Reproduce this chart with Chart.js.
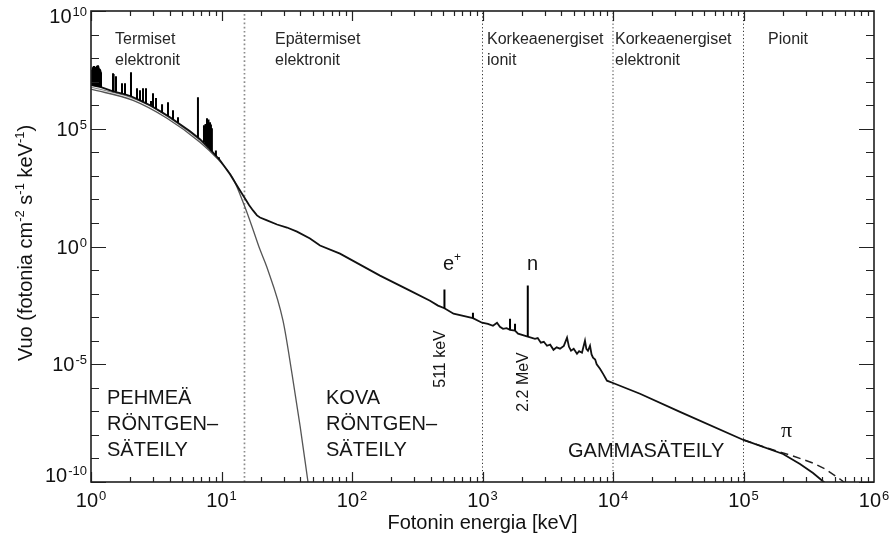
<!DOCTYPE html>
<html lang="fi">
<head>
<meta charset="utf-8">
<title>Auringon röntgen- ja gammaspektri</title>
<script src="https://cdn.jsdelivr.net/npm/chart.js@4.4.1/dist/chart.umd.min.js"></script>
<style>
  html, body { margin: 0; padding: 0; background: #fff; }
  canvas { display: block; }
</style>
</head>
<body>
<canvas id="spektriChart" width="893" height="538"></canvas>
<script>
// Fotonin energia [keV] ja vuo (fotonia cm-2 s-1 keV-1), luettu kuvasta

// kokonaisspektrin jatkumo
var jatkumoE = [1.0, 1.193, 1.475, 1.822, 2.025, 2.374, 2.832, 3.379, 4.031, 4.808, 5.736, 6.843, 8.166, 9.74,
  11.62, 13.86, 15.14, 16.3, 17.43, 18.7, 19.72, 22.32, 26.63, 31.77, 37.89, 47.66, 56.86, 80.9, 163.9, 278, 396, 456, 511,
  600, 845, 991, 1100, 1203, 1292, 1360, 1436, 1530, 1625, 1775, 1872, 2223, 2525, 2650, 2800, 2950, 3120, 3300, 3500, 3700,
  3925, 4200, 4444, 4600, 4769, 5000, 5296, 5500, 5785, 6100, 6250, 6430, 6665, 6850, 7030, 7300, 7500, 7950, 8400, 8990,
  10000, 16100, 32600, 1e5, 2.01e5, 2.71e5, 3.41e5, 4.21e5];
var jatkumoF = [7.1e6, 5.8e6, 3.9e6, 2.9e6, 2.4e6, 1.6e6, 1.0e6, 5.6e5, 3.1e5, 1.55e5, 7.8e4, 3.6e4, 1.35e4, 4.6e3,
  1.16e3, 240, 110, 56, 34, 21, 17, 12.8, 8.6, 6.4, 4.3, 2.2, 1.1, 0.50, 0.058, 0.0134, 5.0e-3, 3.1e-3, 2.4e-3,
  1.4e-3, 9.0e-4, 5.8e-4, 5.2e-4, 4.3e-4, 5.8e-4, 3.9e-4, 3.2e-4, 3.4e-4, 2.9e-4, 2.7e-4, 2.0e-4, 1.5e-4, 1.2e-4, 1.3e-4, 8.2e-5, 9.0e-5, 6.1e-5, 6.8e-5, 4.1e-5, 5.2e-5,
  4.6e-5, 6.0e-5, 1.34e-4, 5.5e-5, 3.75e-5, 4.5e-5, 2.8e-5, 3.6e-5, 3.1e-5, 1.0e-4, 4.5e-5, 3.75e-5, 6.1e-5, 2.6e-5, 1.9e-5, 1.6e-5, 1.0e-5, 6.4e-6, 3.9e-6, 2.0e-6,
  1.6e-6, 5.6e-7, 9.5e-8, 6.1e-9, 1.55e-9, 5.8e-10, 2.4e-10, 9.1e-11];

// spektriviivat: energia, pohja ja huippu
var viivaE = [1.018, 1.027, 1.036, 1.045, 1.054, 1.063, 1.073, 1.082, 1.092, 1.101, 1.111, 1.121, 1.131, 1.141, 1.151,
  1.161, 1.172, 1.182, 1.193, 1.475, 1.49, 1.554, 1.728, 1.822, 2.025, 2.251, 2.374, 2.503, 2.639, 2.884, 2.986, 3.148,
  3.503, 3.891, 4.25, 4.642, 6.6, 7.34, 7.54, 7.74, 7.95, 8.17, 8.3, 8.44, 9.06, 9.55, 511, 845, 1625, 1775, 2223];
var viivaPohja = [7.0e6, 6.9e6, 6.8e6, 6.75e6, 6.7e6, 6.6e6, 6.5e6, 6.45e6, 6.4e6, 6.35e6, 6.3e6, 6.25e6, 6.2e6, 6.1e6, 6.0e6,
  5.95e6, 5.9e6, 5.85e6, 5.8e6, 3.9e6, 3.85e6, 3.7e6, 3.2e6, 2.9e6,
  2.4e6, 1.85e6, 1.6e6, 1.4e6, 1.2e6, 9.4e5, 8.4e5, 7.0e5, 4.9e5, 3.5e5, 2.5e5, 1.8e5, 4.2e4, 2.6e4, 2.2e4, 1.85e4, 1.6e4, 1.35e4,
  1.2e4, 1.1e4, 7.0e3, 5.1e3, 2.4e-3, 9.0e-4, 2.9e-4, 2.7e-4, 1.5e-4];
var viivaHuippu = [3.1e7, 3.6e7, 4.1e7, 4.4e7, 4.6e7, 4.2e7, 3.75e7, 3.9e7, 4.1e7, 4.4e7, 4.6e7, 4.8e7, 5.0e7, 4.4e7, 3.75e7,
  3.5e7, 3.4e7, 3.0e7, 2.5e7, 2.3e7, 2.1e7, 1.7e7, 8.6e6, 8.6e6,
  2.5e7, 5.3e6, 4.3e6, 5.3e6, 5.3e6, 1.5e6, 3.2e6, 2.0e6, 1.1e6, 1.35e6, 6.1e5, 3.1e5, 2.2e6, 1.4e5, 1.6e5, 2.8e5, 2.5e5, 1.9e5,
  1.5e5, 1.05e5, 1.2e4, 6.1e3, 1.5e-2, 1.55e-3, 8.6e-4, 5.3e-4, 2.2e-2];

// terminen malli (jyrkkä) ja toinen terminen komponentti
var termiE = [1.0, 2.1, 3.82, 6.84, 9.24, 12.25, 15.14, 17.43, 19.72, 22.32, 29.6, 34.7, 40.0, 46.0];
var termiF = [4.8e6, 1.6e6, 2.8e5, 2.7e4, 5.5e3, 780, 46, 5.3, 0.74, 0.128, 7.1e-4, 3.9e-6, 2.4e-8, 1e-10];
var termi2E = [1.0, 1.99, 2.98, 4.81, 6.84, 8.9];
var termi2F = [5.8e6, 2.2e6, 8.2e5, 1.4e5, 3.2e4, 7.4e3];

// pionien hajoaminen (katkoviiva)
var pioniE = [1e5, 1.51e5, 2.39e5, 3.41e5, 4.21e5, 5.48e5, 6.0e5];
var pioniF = [6.1e-9, 2.8e-9, 1.28e-9, 6.4e-10, 3.6e-10, 1.34e-10, 9.1e-11];

// alueiden rajat
var rajaE = [15, 1000, 10000, 100000];

// akselit
var xMin = 1, xMax = 1e6, yMin = 1e-10, yMax = 1e10;
var xTikit = [1, 10, 100, 1e3, 1e4, 1e5, 1e6];
var xTikkiEksp = ['0', '1', '2', '3', '4', '5', '6'];
var yTikit = [1e10, 1e5, 1, 1e-5, 1e-10];
var yTikkiEksp = ['10', '5', '0', '-5', '-10'];

var FONTTI = "'Liberation Sans', Arial, Helvetica, sans-serif";

function pisteet(e, f) {
  return e.map(function (x, i) { return { x: x, y: f[i] }; });
}

function viivaPisteet() {
  var d = [];
  for (var i = 0; i < viivaE.length; i++) {
    d.push({ x: viivaE[i], y: viivaPohja[i] });
    d.push({ x: viivaE[i], y: viivaHuippu[i] });
    d.push({ x: viivaE[i], y: null });
  }
  return d;
}

var datasets = [
  { data: viivaPisteet(), borderColor: '#000', borderWidth: 2, spanGaps: false },
  { data: pisteet(jatkumoE, jatkumoF), borderColor: '#111', borderWidth: 1.8 },
  { data: pisteet(pioniE, pioniF), borderColor: '#222', borderWidth: 1.5, borderDash: [8, 5] },
  { data: pisteet(termiE, termiF), borderColor: '#555', borderWidth: 1.3, cubicInterpolationMode: 'monotone' },
  { data: pisteet(termi2E, termi2F), borderColor: '#8a8a8a', borderWidth: 1.1, cubicInterpolationMode: 'monotone' }
];
rajaE.forEach(function (e, i) {
  datasets.push({
    data: [{ x: e, y: yMin }, { x: e, y: yMax }],
    borderColor: i === 0 ? '#8c8c8c' : '#333',
    borderWidth: i === 0 ? 1.7 : 1,
    borderDash: i === 0 ? [1.7, 2.5] : [1.2, 2.4]
  });
});

function potenssi(ctx, eks, x, y, tasaus) {
  ctx.font = '20px ' + FONTTI;
  var w1 = ctx.measureText('10').width;
  ctx.font = '13px ' + FONTTI;
  var w2 = ctx.measureText(eks).width;
  var koko = w1 + 1 + w2;
  var x0 = tasaus === 'right' ? x - koko : x - koko / 2;
  ctx.textAlign = 'left';
  ctx.textBaseline = 'alphabetic';
  ctx.font = '20px ' + FONTTI;
  ctx.fillText('10', x0, y);
  ctx.font = '13px ' + FONTTI;
  ctx.fillText(eks, x0 + w1 + 1, y - 7);
}

function teksti(ctx, rivit, x, y0, rivivali, koko) {
  ctx.font = koko + 'px ' + FONTTI;
  ctx.textAlign = 'left';
  ctx.textBaseline = 'alphabetic';
  rivit.forEach(function (r, i) { ctx.fillText(r, x, y0 + i * rivivali); });
}

var kehys = {
  id: 'kehys',
  afterDraw: function (chart) {
    var ctx = chart.ctx, a = chart.chartArea;
    var sx = chart.scales.x, sy = chart.scales.y;
    ctx.save();

    // tikit sisäänpäin kaikilla reunoilla
    ctx.strokeStyle = '#222';
    ctx.lineWidth = 1.2;
    ctx.beginPath();
    for (var d = 0; d < 6; d++) {
      for (var m = 1; m <= 9; m++) {
        var px = Math.round(sx.getPixelForValue(m * Math.pow(10, d))) + 0.5;
        var pit = m === 1 ? 10 : 5;
        ctx.moveTo(px, a.bottom); ctx.lineTo(px, a.bottom - pit);
        ctx.moveTo(px, a.top); ctx.lineTo(px, a.top + pit);
      }
    }
    for (var k = -10; k <= 10; k++) {
      var py = Math.round(sy.getPixelForValue(Math.pow(10, k))) + 0.5;
      var pit2 = k % 5 === 0 ? 15 : 8;
      ctx.moveTo(a.left, py); ctx.lineTo(a.left + pit2, py);
      ctx.moveTo(a.right, py); ctx.lineTo(a.right - pit2, py);
    }
    ctx.stroke();

    // kehys
    ctx.lineWidth = 1.6;
    ctx.strokeStyle = '#1e1e1e';
    ctx.strokeRect(a.left, a.top, a.right - a.left, a.bottom - a.top);

    // tikkien nimiöt
    ctx.fillStyle = '#111';
    xTikit.forEach(function (v, i) {
      potenssi(ctx, xTikkiEksp[i], sx.getPixelForValue(v), a.bottom + 25, 'center');
    });
    yTikit.forEach(function (v, i) {
      var py = sy.getPixelForValue(v) + 7;
      if (i === 0) py = a.top + 12;
      if (i === yTikit.length - 1) py = a.bottom;
      potenssi(ctx, yTikkiEksp[i], a.left - 4, py, 'right');
    });

    // akselien otsikot
    ctx.font = '20px ' + FONTTI;
    ctx.textAlign = 'center';
    ctx.fillText('Fotonin energia [keV]', (a.left + a.right) / 2, 529);

    var osat = [['Vuo (fotonia cm', 20, 0], ['-2', 13, -8], [' s', 20, 0], ['-1', 13, -8],
      [' keV', 20, 0], ['-1', 13, -8], [')', 20, 0]];
    var pituus = 0;
    osat.forEach(function (o) { ctx.font = o[1] + 'px ' + FONTTI; o.push(ctx.measureText(o[0]).width); pituus += o[3]; });
    ctx.save();
    ctx.translate(32, 243);
    ctx.rotate(-Math.PI / 2);
    ctx.textAlign = 'left';
    var xx = -pituus / 2;
    osat.forEach(function (o) {
      ctx.font = o[1] + 'px ' + FONTTI;
      ctx.fillText(o[0], xx, o[2]);
      xx += o[3];
    });
    ctx.restore();

    // alueiden nimet
    ctx.fillStyle = '#262626';
    teksti(ctx, ['Termiset', 'elektronit'], 115, 44, 21, 16);
    teksti(ctx, ['Epätermiset', 'elektronit'], 275, 44, 21, 16);
    teksti(ctx, ['Korkeaenergiset', 'ionit'], 487, 44, 21, 16);
    teksti(ctx, ['Korkeaenergiset', 'elektronit'], 615, 44, 21, 16);
    teksti(ctx, ['Pionit'], 768, 44, 21, 16);

    ctx.fillStyle = '#151515';
    teksti(ctx, ['PEHMEÄ', 'RÖNTGEN–', 'SÄTEILY'], 107, 404, 26, 20);
    teksti(ctx, ['KOVA', 'RÖNTGEN–', 'SÄTEILY'], 326, 404, 26, 20);
    teksti(ctx, ['GAMMASÄTEILY'], 568, 457, 26, 20);

    // viivojen merkinnät
    teksti(ctx, ['e'], 443, 270, 0, 20);
    teksti(ctx, ['+'], 454, 261, 0, 12);
    teksti(ctx, ['n'], 527, 270, 0, 20);
    ctx.font = '22px "Liberation Serif", "DejaVu Serif", serif';
    ctx.fillText('π', 781, 437);

    ctx.font = '16px ' + FONTTI;
    ctx.textAlign = 'center';
    [['511 keV', 445, 359], ['2.2 MeV', 528, 382]].forEach(function (t) {
      ctx.save();
      ctx.translate(t[1], t[2]);
      ctx.rotate(-Math.PI / 2);
      ctx.fillText(t[0], 0, 0);
      ctx.restore();
    });

    ctx.restore();
  }
};

var ctx = document.getElementById('spektriChart').getContext('2d');
new Chart(ctx, {
  type: 'line',
  data: { datasets: datasets },
  options: {
    responsive: false,
    animation: false,
    events: [],
    layout: { padding: { left: 91, right: 19, top: 11, bottom: 56 } },
    elements: { point: { radius: 0 }, line: { tension: 0, fill: false } },
    plugins: { legend: { display: false }, tooltip: { enabled: false } },
    scales: {
      x: { type: 'logarithmic', min: xMin, max: xMax, display: false },
      y: { type: 'logarithmic', min: yMin, max: yMax, display: false }
    }
  },
  plugins: [kehys]
});
</script>
</body>
</html>
